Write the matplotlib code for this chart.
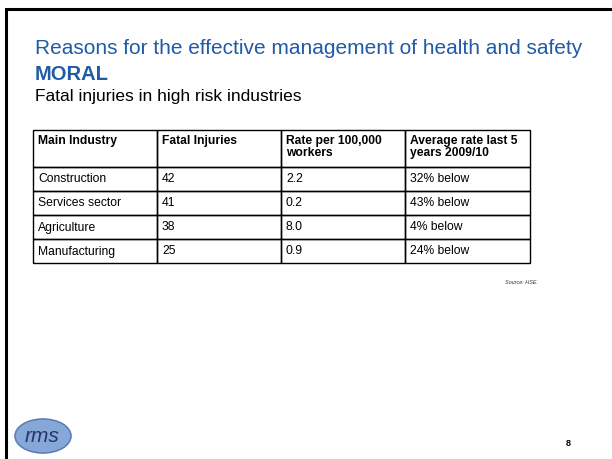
import matplotlib.pyplot as plt
from matplotlib.patches import Rectangle, Ellipse

plt.rcParams['font.family'] = ['Liberation Sans', 'DejaVu Sans']

# table data
headers = ['Main Industry', 'Fatal Injuries', 'Rate per 100,000\nworkers', 'Average rate last 5\nyears 2009/10']
industries = ['Construction', 'Services sector', 'Agriculture', 'Manufacturing']
fatal = [42, 41, 38, 25]
rate = [2.2, 0.2, 8.0, 0.9]
avg_below = [32, 43, 4, 24]

blue = '#1f5ba6'

fig = plt.figure(figsize=(6.12, 4.59), dpi=100)
ax = fig.add_axes([0, 0, 1, 1])
ax.set_xlim(0, 612)
ax.set_ylim(459, 0)
ax.axis('off')

# slide frame (only left and top edges visible)
ax.plot([6, 6, 612], [459, 9, 9], color='black', lw=2.2, solid_joinstyle='miter')

ax.text(35, 49, 'Reasons for the effective management of health and safety',
        color=blue, fontsize=15, va='center', ha='left')
ax.text(35, 74, 'MORAL', color=blue, fontsize=14.5, fontweight='bold', va='center', ha='left')
ax.text(35, 97, 'Fatal injuries in high risk industries', color='black', fontsize=12.5,
        va='center', ha='left')

# table layout
col_x = [33, 157, 281, 405, 530]
row_y = [130, 167, 191, 215, 239, 263]

rows = [headers]
for i in range(len(industries)):
    rows.append([industries[i], str(fatal[i]), f'{rate[i]:.1f}', f'{avg_below[i]}% below'])

for r, row in enumerate(rows):
    for c, val in enumerate(row):
        x0, x1 = col_x[c], col_x[c + 1]
        y0, y1 = row_y[r], row_y[r + 1]
        ax.add_patch(Rectangle((x0, y0), x1 - x0, y1 - y0, fill=False,
                               edgecolor='black', lw=1.0))
        if r == 0:
            ax.text(x0 + 5, y0 + 5, val, fontsize=8.7, fontweight='bold', va='top',
                    ha='left', linespacing=1.05)
        else:
            ax.text(x0 + 5, (y0 + y1) / 2 + 0.5, val, fontsize=8.7, va='center', ha='left')

ax.text(538, 283, 'Source: HSE.', fontsize=4, style='italic', ha='right', va='center',
        color='#333333')

# logo
ax.add_patch(Ellipse((43, 436), 56, 34, facecolor='#86a8d8', edgecolor='#5d7fb5', lw=1.2))
ax.text(42, 437, 'rms', fontsize=15, style='italic', color='#26356b', ha='center',
        va='center')

ax.text(568, 444, '8', fontsize=6.5, fontweight='bold', ha='center', va='center')

fig.savefig('out.png', dpi=100)
